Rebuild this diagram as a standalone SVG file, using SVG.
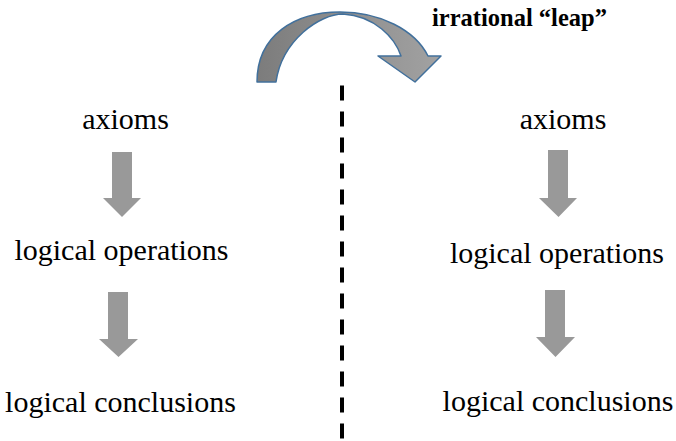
<svg xmlns="http://www.w3.org/2000/svg" width="676" height="441" viewBox="0 0 676 441">
  <defs>
    <style>
      .t { font-family: "Liberation Serif", "Times New Roman", serif; font-size: 30px; fill: #000; text-anchor: middle; }
      .lbl { font-family: "Liberation Serif", "Times New Roman", serif; font-size: 24.5px; font-weight: bold; fill: #000; }
      .down { fill: #999999; }
      .leap { fill: url(#g); stroke: #41709c; stroke-width: 1.5; stroke-linejoin: round; }
      .divider { stroke: #000; stroke-width: 4; stroke-dasharray: 15 11; fill: none; }
    </style>
    <linearGradient id="g" x1="0" y1="0" x2="1" y2="0">
      <stop offset="0" stop-color="#7c7c7c"/>
      <stop offset="1" stop-color="#a2a2a2"/>
    </linearGradient>
  </defs>
  <rect width="676" height="441" fill="#fff"/>

  <g id="leap-arrow">
    <path class="leap" d="M257,82 C257,35 295,12 340,12 C380,12 415,30 428,56 L441,56 L415,82 L378,56 L401,56 C395,38 375,16 343,14 C320,14 282,40 276,82 Z"/>
  </g>
  <g id="leap-label">
    <text class="lbl" x="432" y="26">irrational “leap”</text>
  </g>

  <g id="connectors">
    <line id="divider" class="divider" x1="342" y1="85.5" x2="342" y2="441"/>
    <path class="down" d="M112,152 H132 V198 H141 L122,217 L103,198 H112 Z"/>
    <path class="down" d="M108,292 H128 V339 H138 L118.5,357 L99,339 H108 Z"/>
    <path class="down" d="M548,150 H568 V198 H577 L558.5,217 L539,198 H548 Z"/>
    <path class="down" d="M545,290 H565 V337 H575 L555.5,357 L536,337 H545 Z"/>
  </g>

  <g id="left-axioms"><text class="t" x="125.5" y="128.5">axioms</text></g>
  <g id="left-operations"><text class="t" x="121.5" y="260">logical operations</text></g>
  <g id="left-conclusions"><text class="t" x="120.5" y="411.5">logical conclusions</text></g>

  <g id="right-axioms"><text class="t" x="563" y="128.5">axioms</text></g>
  <g id="right-operations"><text class="t" x="557" y="263">logical operations</text></g>
  <g id="right-conclusions"><text class="t" x="558" y="410.5">logical conclusions</text></g>
</svg>
